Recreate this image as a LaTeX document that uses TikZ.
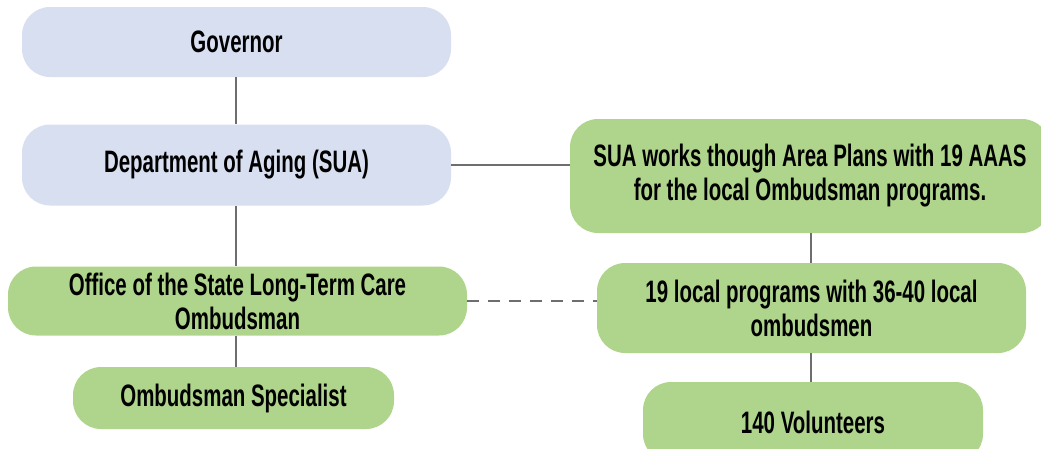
\documentclass[tikz,border=0pt]{standalone}
\usepackage{fontspec}
\setmainfont{Liberation Sans}[FakeStretch=0.66]
\definecolor{boxblue}{HTML}{D7DFF1}
\definecolor{boxgreen}{HTML}{AFD58C}
\definecolor{linkgray}{HTML}{6E6E70}
\begin{document}
\begin{tikzpicture}[
        x=1pt, y=-1pt,
        box/.style={rectangle, rounded corners=28pt, align=center, inner sep=0pt, font={\fontsize{31}{34}\selectfont\bfseries}},
        bluebox/.style={box, fill=boxblue},
        greenbox/.style={box, fill=boxgreen},
        link/.style={draw=linkgray, line width=2.6pt},
        dashlink/.style={link, dash pattern=on 12pt off 9pt}
    ]
        \useasboundingbox (0,0) rectangle (1041,448);

        % left column
        \node[bluebox, minimum width=429pt, minimum height=70pt] (governor) at (236.5,42) {Governor};
        \node[bluebox, minimum width=429pt, minimum height=81pt] (aging) at (236.5,165) {Department of Aging (SUA)};
        \node[greenbox, minimum width=459pt, minimum height=69pt] (office) at (237.5,301) {Office of the State Long-Term Care\\Ombudsman};
        \node[greenbox, minimum width=321pt, minimum height=62pt] (specialist) at (233.5,398) {Ombudsman Specialist};

        % right column
        \node[greenbox, minimum width=480pt, minimum height=114pt] (areaplans) at (810,176) {SUA works though Area Plans with 19 AAAS\\for the local Ombudsman programs.};
        \node[greenbox, minimum width=429pt, minimum height=90pt] (localprog) at (811.5,308) {19 local programs with 36-40 local\\ombudsmen};
        \node[greenbox, minimum width=340pt, minimum height=80pt] (volunteers) at (813,422) {140 Volunteers};

        % connectors
        \draw[link] (governor.south -| 236,0) -- (aging.north -| 236,0);
        \draw[link] (aging.south -| 236,0) -- (office.north -| 236,0);
        \draw[link] (office.south -| 236,0) -- (specialist.north -| 236,0);
        \draw[link] (aging.east) -- (aging.east -| areaplans.west);
        \draw[link] (areaplans.south -| 811,0) -- (localprog.north -| 811,0);
        \draw[link] (localprog.south -| 811,0) -- (volunteers.north -| 811,0);
        \draw[dashlink] (office.east) -- (localprog.west |- office.east);
    \end{tikzpicture}
\end{document}
